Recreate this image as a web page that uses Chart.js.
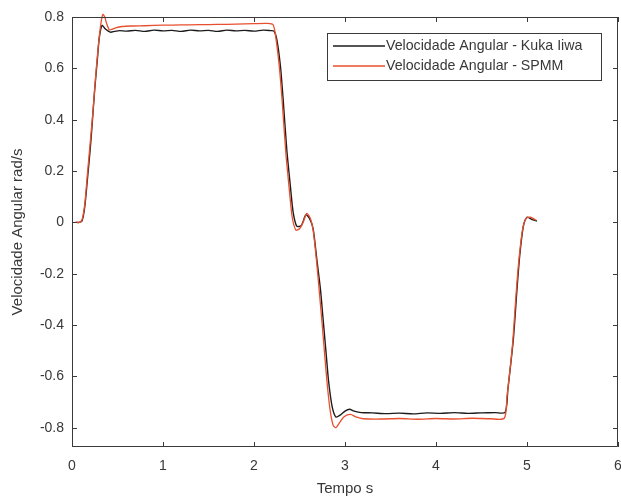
<!DOCTYPE html>
<html lang="pt">
<head>
  <meta charset="UTF-8">
  <title>Velocidade Angular</title>
  <script src="https://cdn.jsdelivr.net/npm/chart.js"></script>
  <style>
    html, body { margin: 0; padding: 0; background: #fff; }
    canvas { display: block; }
  </style>
</head>
<body>
  <canvas id="velChart" width="621" height="499"></canvas>

  <script>
    // Kuka iiwa angular velocity (time s, rad/s)
    const kukaT = [0.04, 0.08, 0.11, 0.14, 0.17, 0.20, 0.22, 0.25, 0.28, 0.30, 0.33, 0.37, 0.42, 0.47, 0.52,
      0.60, 0.70, 0.80, 0.90, 1.00, 1.10, 1.20, 1.30, 1.40, 1.50, 1.60, 1.70, 1.80, 1.90, 2.00, 2.10, 2.18,
      2.22, 2.25, 2.29, 2.32, 2.36, 2.40, 2.43, 2.47, 2.52, 2.57, 2.61, 2.65, 2.69, 2.73, 2.76, 2.79, 2.82,
      2.86, 2.90, 2.95, 3.00, 3.05, 3.10, 3.18, 3.30, 3.45, 3.60, 3.75, 3.90, 4.05, 4.20, 4.35, 4.50, 4.65,
      4.76, 4.79, 4.85, 4.89, 4.92, 4.96, 5.00, 5.05, 5.11];
    const kukaV = [0, 0, 0.005, 0.06, 0.17, 0.285, 0.375, 0.52, 0.64, 0.72, 0.767, 0.752, 0.741, 0.744, 0.747,
      0.745, 0.748, 0.744, 0.749, 0.746, 0.748, 0.744, 0.749, 0.746, 0.748, 0.744, 0.749, 0.746, 0.748, 0.745, 0.749, 0.747,
      0.745, 0.714, 0.61, 0.48, 0.285, 0.14, 0.04, -0.015, -0.012, 0.03, 0.015, -0.025, -0.143, -0.26, -0.38, -0.50, -0.62,
      -0.72, -0.758, -0.75, -0.735, -0.728, -0.735, -0.741, -0.742, -0.745, -0.743, -0.746, -0.742, -0.744, -0.741, -0.744, -0.742, -0.741,
      -0.74, -0.65, -0.455, -0.26, -0.13, -0.015, 0.02, 0.012, 0.005];

    // SPMM angular velocity (time s, rad/s)
    const spmmT = [0.04, 0.08, 0.11, 0.14, 0.17, 0.20, 0.23, 0.26, 0.29, 0.32, 0.34, 0.36, 0.38, 0.41, 0.44, 0.48,
      0.55, 0.65, 0.80, 1.00, 1.20, 1.40, 1.60, 1.80, 2.00, 2.15, 2.21, 2.24, 2.28, 2.31, 2.35, 2.39, 2.42,
      2.46, 2.50, 2.54, 2.58, 2.62, 2.65, 2.69, 2.72, 2.75, 2.78, 2.81, 2.84, 2.87, 2.90, 2.94, 2.99, 3.06,
      3.12, 3.20, 3.40, 3.60, 3.80, 4.00, 4.20, 4.40, 4.60, 4.75, 4.78, 4.84, 4.88, 4.91, 4.95, 4.99, 5.04, 5.10];
    const spmmV = [0, 0, 0.01, 0.07, 0.19, 0.31, 0.43, 0.57, 0.69, 0.78, 0.81, 0.80, 0.775, 0.75, 0.752, 0.758,
      0.763, 0.765, 0.766, 0.768, 0.769, 0.77, 0.771, 0.772, 0.774, 0.775, 0.77, 0.72, 0.60, 0.47, 0.27, 0.12, 0.02,
      -0.03, -0.025, 0.0, 0.035, 0.015, -0.03, -0.16, -0.28, -0.40, -0.53, -0.65, -0.74, -0.79, -0.80, -0.78, -0.757, -0.748,
      -0.758, -0.765, -0.766, -0.764, -0.767, -0.764, -0.766, -0.763, -0.765, -0.763, -0.68, -0.48, -0.28, -0.15, -0.03, 0.015, 0.02, 0.008];

    const xTicks = [0, 1, 2, 3, 4, 5, 6];
    const yTicks = [-0.8, -0.6, -0.4, -0.2, 0, 0.2, 0.4, 0.6, 0.8];

    const seriesNames = ['Velocidade Angular - Kuka Iiwa', 'Velocidade Angular - SPMM'];
    const seriesColors = ['#1c1c1c', '#e84f2e'];

    const toPoints = (ts, vs) => ts.map((t, i) => ({ x: t, y: vs[i] }));

    const axisColor = '#3a3a3a';
    const textColor = '#383838';
    const fontFamily = '"Liberation Sans", Arial, sans-serif';

    // box around the plot with inward ticks on all four sides
    const boxPlugin = {
      id: 'matlabBox',
      afterDatasetsDraw(chart) {
        const { ctx, chartArea: a, scales } = chart;
        const len = 5;
        ctx.save();
        ctx.strokeStyle = axisColor;
        ctx.lineWidth = 1;
        ctx.beginPath();
        ctx.rect(a.left + 0.5, a.top + 0.5, a.right - a.left - 1, a.bottom - a.top - 1);
        xTicks.forEach(v => {
          const px = Math.round(scales.x.getPixelForValue(v)) + 0.5;
          ctx.moveTo(px, a.bottom); ctx.lineTo(px, a.bottom - len);
          ctx.moveTo(px, a.top); ctx.lineTo(px, a.top + len);
        });
        yTicks.forEach(v => {
          const py = Math.round(scales.y.getPixelForValue(v)) + 0.5;
          ctx.moveTo(a.left, py); ctx.lineTo(a.left + len, py);
          ctx.moveTo(a.right, py); ctx.lineTo(a.right - len, py);
        });
        ctx.stroke();
        ctx.restore();
      }
    };

    // legend box inside the upper right of the plot
    const legendPlugin = {
      id: 'insideLegend',
      afterDraw(chart) {
        const { ctx } = chart;
        const x0 = 327, y0 = 33, w = 274, h = 47;
        ctx.save();
        ctx.fillStyle = '#fff';
        ctx.fillRect(x0, y0, w, h);
        ctx.strokeStyle = axisColor;
        ctx.lineWidth = 1;
        ctx.strokeRect(x0 + 0.5, y0 + 0.5, w, h);
        ctx.font = '14.2px ' + fontFamily;
        ctx.textBaseline = 'middle';
        chart.data.datasets.forEach(ds => {
          const k = seriesNames.indexOf(ds.label);
          const y = y0 + 13 + k * 20;
          ctx.strokeStyle = ds.borderColor;
          ctx.lineWidth = 1.4;
          ctx.beginPath();
          ctx.moveTo(x0 + 6, y);
          ctx.lineTo(x0 + 58, y);
          ctx.stroke();
          ctx.fillStyle = textColor;
          ctx.fillText(ds.label, x0 + 59, y);
        });
        ctx.restore();
      }
    };

    const ctx = document.getElementById('velChart').getContext('2d');

    new Chart(ctx, {
      type: 'line',
      data: {
        datasets: [
          {
            label: seriesNames[0],
            data: toPoints(kukaT, kukaV),
            borderColor: seriesColors[0],
            borderWidth: 1.4,
            pointRadius: 0,
            tension: 0.25,
            order: 1
          },
          {
            label: seriesNames[1],
            data: toPoints(spmmT, spmmV),
            borderColor: seriesColors[1],
            borderWidth: 1.3,
            pointRadius: 0,
            tension: 0.25,
            clip: 8,
            order: 0
          }
        ]
      },
      options: {
        responsive: false,
        animation: false,
        layout: { padding: { top: 17, right: 3, left: 0, bottom: 0 } },
        plugins: {
          legend: { display: false },
          tooltip: { enabled: false }
        },
        scales: {
          x: {
            type: 'linear',
            min: 0,
            max: 6,
            afterBuildTicks: s => { s.ticks = xTicks.map(v => ({ value: v })); },
            afterFit: s => { s.height = 52; s.paddingLeft = 0; s.paddingRight = 0; },
            grid: { display: false, drawTicks: false },
            border: { display: false },
            ticks: {
              color: textColor,
              padding: 11,
              font: { family: fontFamily, size: 14 },
              maxRotation: 0
            },
            title: {
              display: true,
              text: 'Tempo s',
              color: textColor,
              font: { family: fontFamily, size: 15 },
              padding: { top: 0, bottom: 1 }
            }
          },
          y: {
            min: -0.875,
            max: 0.8,
            afterBuildTicks: s => { s.ticks = yTicks.map(v => ({ value: v })); },
            afterFit: s => { s.width = 72; },
            grid: { display: false, drawTicks: false },
            border: { display: false },
            ticks: {
              color: textColor,
              padding: 8,
              font: { family: fontFamily, size: 14 },
              callback: v => (Math.abs(v) < 1e-9 ? '0' : v.toFixed(1))
            },
            title: {
              display: true,
              text: 'Velocidade Angular rad/s',
              color: textColor,
              font: { family: fontFamily, size: 15 },
              padding: { top: 9, bottom: 4 }
            }
          }
        }
      },
      plugins: [boxPlugin, legendPlugin]
    });
  </script>
</body>
</html>
